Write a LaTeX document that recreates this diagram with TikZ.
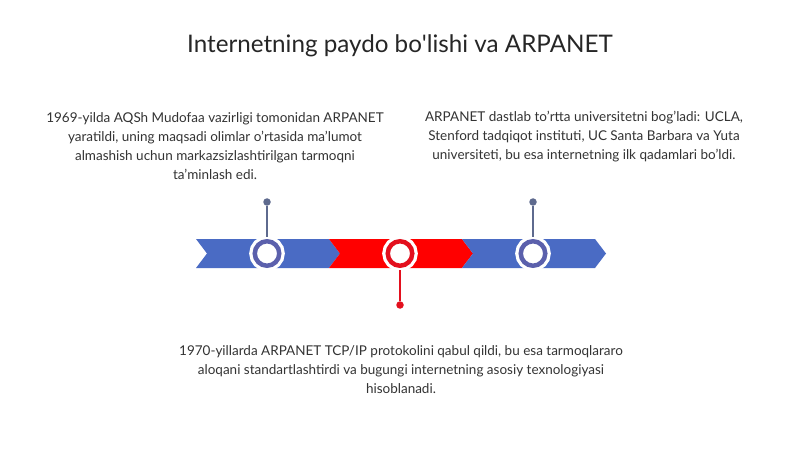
\documentclass[tikz,border=0pt]{standalone}
\usepackage{fontspec}
\setmainfont{Lato}
\definecolor{ribbonblue}{HTML}{4A6BC4}
\definecolor{ribbonred}{HTML}{FF0000}
\definecolor{ringblue}{HTML}{5B60AC}
\definecolor{ringred}{HTML}{E3101E}
\definecolor{pingrey}{HTML}{5E6A8E}
\definecolor{textgrey}{HTML}{333333}
\tikzset{
  ring/.style={circle, draw=#1, line width=4.5pt, fill=white, inner sep=0pt,
    minimum size=24.5pt, preaction={draw=white, line width=11pt}},
  pin/.style={draw=#1, line width=1.5pt},
  dot/.style={circle, fill=#1, inner sep=0pt, minimum size=7.5pt},
  txt/.style={text=textgrey, align=center, font=\fontsize{13.5}{19}\selectfont},
}
\begin{document}
\begin{tikzpicture}[x=1pt, y=-1pt]
        \useasboundingbox[fill=white] (0,0) rectangle (800,449);
        % title
        \node[text=black!85, font=\fontsize{24.2}{28}\selectfont] (title) at (400,46)
          {Internetning paydo bo\textquotesingle lishi va ARPANET};
        % ribbon
        \foreach \x/\c in {196/ribbonblue, 329/ribbonred, 462/ribbonblue}
          \fill[\c] (\x,239) -- ({\x+133},239) -- ({\x+144},253.5) -- ({\x+133},268)
            -- (\x,268) -- ({\x+11},253.5) -- cycle;
        % rings and pins
        \node[ring=ringblue] (r1) at (267,253.5) {};
        \node[ring=ringred] (r2) at (400,253.5) {};
        \node[ring=ringblue] (r3) at (533,253.5) {};
        \node[dot=pingrey] (d1) at (267,202) {};
        \node[dot=ringred] (d2) at (400,305) {};
        \node[dot=pingrey] (d3) at (533,202) {};
        \draw[pin=pingrey] (d1) -- ([yshift=2.25pt]r1.north);
        \draw[pin=ringred] (d2) -- ([yshift=-2.25pt]r2.south);
        \draw[pin=pingrey] (d3) -- ([yshift=2.25pt]r3.north);
        % texts
        \node[txt] (t1) at (215,146.5) {1969-yilda AQSh Mudofaa vazirligi tomonidan ARPANET\\
          yaratildi, uning maqsadi olimlar o'rtasida ma'lumot\\
          almashish uchun markazsizlashtirilgan tarmoqni\\
          ta'minlash edi.};
        \node[txt] (t2) at (584,137) {ARPANET dastlab to'rtta universitetni bog'ladi: UCLA,\\
          Stenford tadqiqot instituti, UC Santa Barbara va Yuta\\
          universiteti, bu esa internetning ilk qadamlari bo'ldi.};
        \node[txt] (t3) at (401,370) {1970-yillarda ARPANET TCP/IP protokolini qabul qildi, bu esa tarmoqlararo\\
          aloqani standartlashtirdi va bugungi internetning asosiy texnologiyasi\\
          hisoblanadi.};
    \end{tikzpicture}
\end{document}
